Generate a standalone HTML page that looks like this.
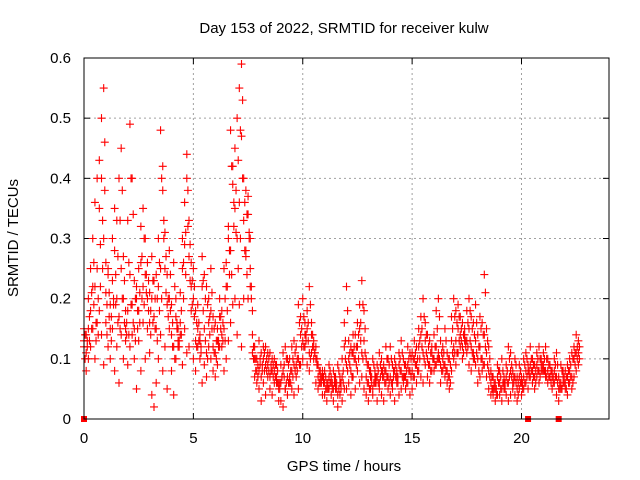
<!DOCTYPE html>
<html><head><meta charset="utf-8"><style>
body{margin:0;background:#fff;}
svg{display:block;font-family:"Liberation Sans",sans-serif;}
</style></head><body>
<svg id="c" width="640" height="480" viewBox="0 0 640 480">
<rect width="640" height="480" fill="#fff"/>
<text x="344" y="33" font-size="15" text-anchor="middle">Day 153 of 2022, SRMTID for receiver kulw</text>
<text x="344" y="471" font-size="15" text-anchor="middle">GPS time / hours</text>
<text x="18" y="238" font-size="15" text-anchor="middle" transform="rotate(-90 18 238)">SRMTID / TECUs</text>
<g id="grid"></g><g id="ticks"></g><g id="pts"></g>
<rect x="84" y="58" width="525" height="361" fill="none" stroke="#000" stroke-width="1"/>
</svg>
<script>
const xTicks=[0,5,10,15,20];
const yTicks=[0,0.1,0.2,0.3,0.4,0.5,0.6];
const yTickLabels=["0","0.1","0.2","0.3","0.4","0.5","0.6"];
const gapMarks=[0,20.3,21.7];
const v1=[.13,.08,.10,.12,.15,.10,.16,.18,.14,.09, .16,.12,.10,.15,.08,.12,.06,.14,.10,.13, .09,.12,.14,.10,.05,.13,.08,.16,.10,.15, .11,.04,.02,.06,.10,.14,.08,.12,.05,.15, .08,.04,.10,.12,.14,.09,.15,.11,.12,.18, .10,.08,.12,.13,.06,.09,.07,.12,.10,.08, .07,.09,.12,.14,.08,.10,.13,.16,.19,.20, .14,.19,.12,.20,.27,.20,.30,.18,.10,.08, .05,.03,.06,.04,.07,.05,.04,.08,.06,.03, .03,.02,.05,.04,.06,.05,.04,.07,.05,.09, .10,.12,.09,.08,.11,.10,.06,.05,.07,.04, .04,.03,.05,.04,.03,.05,.02,.04,.03,.05, .05,.06,.04,.07,.05,.08,.06,.07,.05,.04, .03,.05,.04,.06,.03,.05,.04,.03,.06,.05, .04,.05,.03,.06,.04,.05,.07,.05,.06,.04, .05,.07,.06,.08,.07,.06,.09,.07,.06,.08, .08,.09,.10,.06,.08,.07,.06,.05,.08,.10, .09,.11,.12,.10,.13,.11,.09,.08,.10,.09, .06,.07,.08,.09,.07,.05,.04,.04,.03,.04, .04,.03,.05,.04,.03,.04,.05,.04,.03,.05, .04,.05,.06,.05,.07,.06,.05,.07,.06,.08, .08,.07,.06,.07,.05,.06,.04,.03,.05,.06, .05,.04,.06,.05,.07,.08,.09];
const v2=[.15,.14,.20,.25,.30,.22,.25,.35,.40,.55, .21,.25,.19,.23,.28,.33,.40,.45,.27,.18, .33,.49,.40,.23,.20,.25,.32,.35,.24,.26, .21,.27,.23,.24,.30,.48,.38,.31,.19,.28, .19,.26,.17,.13,.21,.30,.36,.44,.33,.26, .25,.18,.15,.14,.27,.24,.22,.20,.25,.17, .11,.15,.20,.18,.15,.26,.32,.48,.42,.35, .50,.55,.59,.40,.38,.34,.22,.14,.12,.06, .13,.11,.10,.12,.09,.11,.08,.10,.07,.06, .09,.11,.12,.07,.10,.08,.13,.09,.19,.14, .20,.16,.15,.22,.14,.13,.12,.09,.08,.07, .08,.06,.09,.07,.08,.06,.09,.07,.10,.16, .22,.10,.12,.11,.14,.16,.19,.23,.18,.10, .09,.08,.10,.07,.09,.11,.08,.09,.12,.10, .12,.09,.10,.08,.11,.13,.10,.09,.12,.11, .11,.13,.12,.15,.17,.20,.16,.14,.13,.12, .14,.18,.20,.13,.12,.15,.11,.10,.17,.20, .18,.19,.17,.16,.15,.18,.20,.17,.16,.19, .14,.17,.16,.24,.15,.12,.08,.07,.06,.09, .08,.10,.07,.09,.12,.11,.08,.10,.07,.09, .07,.10,.11,.09,.12,.10,.09,.11,.12,.10, .11,.12,.10,.09,.08,.10,.11,.07,.09,.08, .08,.09,.10,.11,.12,.14,.13];
const v3=[.12,.11,.15,.18,.22,.36,.40,.43,.50,.30, .26,.24,.15,.30,.35,.20,.17,.25,.20,.15, .18,.24,.19,.15,.22,.18,.26,.22,.30,.20, .16,.20,.17,.15,.22,.25,.42,.25,.24,.20, .14,.12,.20,.15,.16,.25,.29,.40,.27,.22, .20,.13,.19,.10,.22,.15,.11,.16,.18,.12, .16,.13,.17,.12,.25,.22,.30,.28,.39,.45, .30,.36,.47,.33,.28,.37,.25,.11,.07,.10, .08,.07,.12,.09,.11,.07,.10,.06,.09,.05, .06,.08,.05,.10,.07,.12,.09,.12,.10,.17, .13,.14,.18,.11,.16,.12,.10,.07,.06,.08, .06,.05,.07,.06,.05,.07,.04,.06,.07,.12, .09,.13,.08,.14,.10,.12,.15,.11,.13,.07, .06,.07,.05,.08,.07,.06,.10,.07,.08,.07, .07,.06,.08,.07,.09,.08,.06,.07,.09,.08, .08,.10,.09,.12,.14,.11,.13,.10,.09,.11, .10,.12,.11,.09,.10,.09,.08,.07,.13,.12, .13,.15,.14,.12,.14,.13,.15,.12,.11,.13, .10,.12,.10,.14,.11,.08,.06,.05,.05,.07, .06,.05,.06,.07,.06,.08,.06,.07,.05,.07, .06,.07,.08,.08,.09,.08,.07,.09,.08,.09, .09,.08,.08,.07,.07,.08,.07,.05,.06,.07, .06,.07,.08,.07,.10,.11,.11];
const v4=[.10,.13,.17,.21,.26,.16,.20,.29,.33,.46, .19,.21,.17,.19,.24,.27,.33,.38,.23,.16, .26,.40,.34,.20,.18,.21,.27,.30,.21,.23, .18,.23,.20,.20,.26,.40,.33,.27,.17,.24, .16,.22,.15,.12,.18,.26,.31,.38,.29,.23, .22,.16,.13,.12,.23,.20,.19,.17,.21,.15, .10,.13,.17,.16,.13,.22,.28,.42,.36,.31, .43,.48,.53,.36,.34,.30,.20,.12,.10,.07, .10,.09,.08,.10,.08,.09,.07,.09,.06,.05, .07,.09,.10,.06,.08,.07,.11,.08,.16,.12, .17,.14,.13,.19,.12,.11,.10,.08,.07,.06, .07,.05,.08,.06,.07,.05,.08,.06,.08,.13, .18,.09,.11,.10,.12,.14,.16,.19,.15,.09, .08,.07,.09,.06,.08,.09,.07,.08,.10,.09, .10,.08,.09,.07,.10,.11,.09,.08,.10,.10, .10,.11,.10,.13,.15,.17,.14,.12,.11,.10, .12,.15,.17,.11,.11,.13,.10,.09,.15,.17, .16,.17,.15,.14,.13,.16,.18,.15,.14,.16, .12,.15,.14,.21,.13,.10,.07,.06,.05,.08, .07,.08,.06,.08,.10,.09,.07,.09,.06,.08, .06,.09,.10,.08,.10,.09,.08,.10,.10,.09, .10,.10,.09,.08,.07,.09,.09,.06,.08,.07, .07,.08,.09,.10,.11,.12,.12];
const v5=[.14,.12,.13,.15,.19,.13,.14,.22,.25,.38, .14,.17,.13,.20,.19,.16,.15,.20,.16,.14, .14,.19,.16,.13,.15,.16,.20,.19,.24,.18, .14,.16,.15,.13,.18,.20,.30,.21,.20,.18, .12,.10,.16,.13,.14,.20,.24,.32,.23,.19, .17,.12,.16,.11,.18,.13,.10,.14,.15,.11, .13,.12,.15,.13,.20,.18,.24,.24,.32,.38, .25,.30,.40,.28,.24,.31,.22,.10,.08,.09, .09,.08,.11,.08,.10,.08,.09,.07,.08,.06, .07,.07,.06,.09,.06,.10,.08,.10,.09,.15, .12,.13,.16,.10,.14,.11,.09,.06,.06,.07, .05,.06,.06,.05,.06,.06,.05,.05,.06,.10, .08,.11,.07,.12,.09,.10,.13,.10,.11,.06, .05,.06,.06,.07,.06,.07,.08,.06,.07,.06, .06,.07,.07,.06,.08,.07,.07,.06,.08,.07, .07,.09,.08,.10,.12,.10,.11,.09,.08,.10, .09,.10,.10,.08,.09,.08,.07,.06,.11,.11, .11,.13,.13,.11,.12,.12,.13,.11,.10,.11, .08,.10,.09,.12,.09,.07,.05,.05,.04,.06, .05,.06,.05,.06,.07,.07,.06,.06,.04,.06, .05,.06,.07,.07,.08,.07,.06,.08,.07,.08, .08,.07,.07,.06,.06,.07,.06,.05,.05,.06, .05,.06,.07,.06,.09,.10,.10];
const hours=v1.map((_,i)=>i/10);
const NS="http://www.w3.org/2000/svg";
const X0=84,X1=609,Y0=419,Y1=58,XMAX=24,YMAX=0.6;
function xs(v){return X0+(X1-X0)*v/XMAX;}
function ys(v){return Y0-(Y0-Y1)*v/YMAX;}
function mk(tag,at,parent){const e=document.createElementNS(NS,tag);for(const k in at)e.setAttribute(k,at[k]);parent.appendChild(e);return e;}
const grid=document.getElementById('grid'),ticks=document.getElementById('ticks'),pts=document.getElementById('pts');
xTicks.forEach(t=>{const x=xs(t);
 if(t>0){const g=mk('line',{x1:x,x2:x,y1:Y1,y2:Y0,stroke:'#a0a0a0','stroke-dasharray':'2,3'},grid);
 
 }
 mk('line',{x1:x,x2:x,y1:Y0,y2:Y0-6,stroke:'#000'},ticks);
 mk('line',{x1:x,x2:x,y1:Y1,y2:Y1+6,stroke:'#000'},ticks);
 const l=mk('text',{x:x,y:Y0+24,'font-size':15,'text-anchor':'middle'},ticks);l.textContent=t;
 
 
});
yTicks.forEach((t,i)=>{const y=ys(t);
 if(t>0&&t<YMAX){const g=mk('line',{x1:X0,x2:X1,y1:y,y2:y,stroke:'#a0a0a0','stroke-dasharray':'2,3'},grid);
 
 }
 mk('line',{x1:X0,x2:X0+6,y1:y,y2:y,stroke:'#000'},ticks);
 mk('line',{x1:X1,x2:X1-6,y1:y,y2:y,stroke:'#000'},ticks);
 const l=mk('text',{x:X0-13,y:y+5,'font-size':15,'text-anchor':'end'},ticks);l.textContent=yTickLabels[i];
 
 
});
function cross(t,v,col){const x=xs(t),y=ys(v);
 const p=mk('path',{d:`M${x-4},${y}h8M${x},${y-4}v8`,stroke:col,'stroke-width':1.1,fill:'none'},pts);
 
 }
[v1,v2,v3].forEach(arr=>arr.forEach((v,i)=>cross(hours[i],v,'#ff0000')));
[v4,v5].forEach(arr=>arr.forEach((v,i)=>cross(hours[i]+0.05,v,'#ff0000')));
gapMarks.forEach(t=>{const r=mk('rect',{x:xs(t)-3,y:Y0-3,width:6,height:6,fill:'#ff0000'},pts);
 
 });
</script>
</body></html>
